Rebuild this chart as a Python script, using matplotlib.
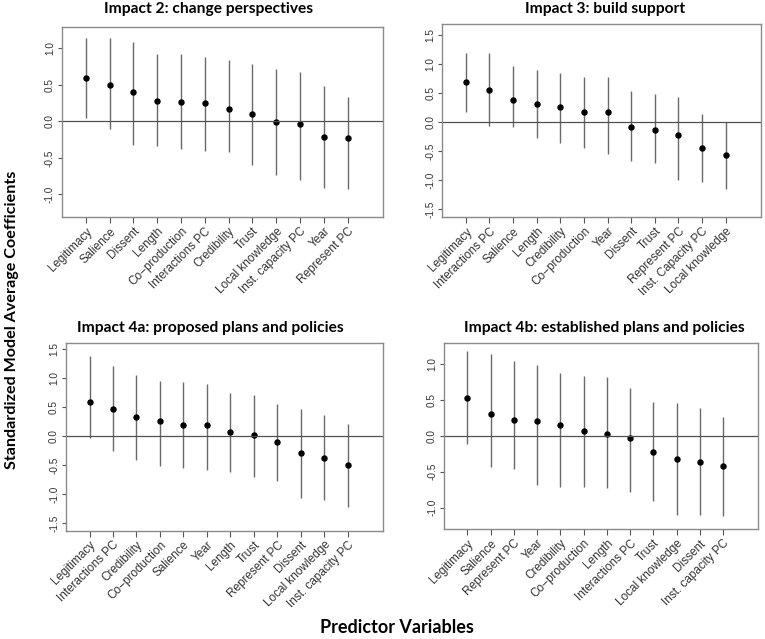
import matplotlib
matplotlib.use('Agg')
import matplotlib.pyplot as plt

plt.rcParams['font.family'] = ['Liberation Sans', 'DejaVu Sans']

# Impact 2: change perspectives
p1_names = ['Legitimacy', 'Salience', 'Dissent', 'Length', 'Co\u2212production', 'Interactions PC',
            'Credibility', 'Trust', 'Local knowledge', 'Inst. capacity PC', 'Year', 'Represent PC']
p1_mid = [0.59, 0.49, 0.40, 0.28, 0.27, 0.25, 0.17, 0.10, -0.01, -0.04, -0.22, -0.23]
p1_low = [0.04, -0.11, -0.32, -0.34, -0.38, -0.40, -0.42, -0.60, -0.74, -0.80, -0.91, -0.93]
p1_high = [1.14, 1.14, 1.09, 0.92, 0.92, 0.88, 0.84, 0.79, 0.72, 0.67, 0.48, 0.33]

# Impact 3: build support
p2_names = ['Legitimacy', 'Interactions PC', 'Salience', 'Length', 'Credibility', 'Co\u2212production',
            'Year', 'Dissent', 'Trust', 'Represent PC', 'Inst. Capacity PC', 'Local knowledge']
p2_mid = [0.69, 0.55, 0.39, 0.31, 0.26, 0.18, 0.17, -0.09, -0.14, -0.22, -0.45, -0.57]
p2_low = [0.17, -0.06, -0.09, -0.27, -0.35, -0.45, -0.55, -0.67, -0.70, -1.00, -1.03, -1.15]
p2_high = [1.20, 1.19, 0.97, 0.90, 0.84, 0.78, 0.78, 0.54, 0.49, 0.43, 0.14, 0.00]

# Impact 4a: proposed plans and policies
p3_names = ['Legitimacy', 'Interactions PC', 'Credibility', 'Co\u2212production', 'Salience', 'Year',
            'Length', 'Trust', 'Represent PC', 'Dissent', 'Local knowledge', 'Inst. capacity PC']
p3_mid = [0.59, 0.48, 0.34, 0.26, 0.20, 0.19, 0.07, 0.02, -0.10, -0.29, -0.37, -0.49]
p3_low = [-0.02, -0.26, -0.41, -0.51, -0.55, -0.58, -0.61, -0.70, -0.77, -1.06, -1.10, -1.21]
p3_high = [1.38, 1.21, 1.06, 0.95, 0.94, 0.91, 0.74, 0.72, 0.55, 0.47, 0.37, 0.21]

# Impact 4b: established plans and policies
p4_names = ['Legitimacy', 'Salience', 'Represent PC', 'Year', 'Credibility', 'Co\u2212production',
            'Length', 'Interactions PC', 'Trust', 'Local knowledge', 'Dissent', 'Inst. capacity PC']
p4_mid = [0.53, 0.30, 0.22, 0.20, 0.15, 0.07, 0.02, -0.03, -0.22, -0.32, -0.36, -0.42]
p4_low = [-0.12, -0.43, -0.46, -0.69, -0.71, -0.71, -0.72, -0.78, -0.91, -1.10, -1.10, -1.12]
p4_high = [1.18, 1.14, 1.03, 0.98, 0.87, 0.83, 0.81, 0.66, 0.47, 0.46, 0.38, 0.26]

titles = ['Impact 2: change perspectives', 'Impact 3: build support',
          'Impact 4a: proposed plans and policies', 'Impact 4b: established plans and policies']
yticks1 = [-1.0, -0.5, 0.0, 0.5, 1.0]
yticks2 = [-1.5, -1.0, -0.5, 0.0, 0.5, 1.0, 1.5]

panels = [
    (p1_names, p1_mid, p1_low, p1_high, [0.081, 0.6604, 0.420, 0.2973], (-1.31, 1.29), yticks1, (0.273, 0.986)),
    (p2_names, p2_mid, p2_low, p2_high, [0.578, 0.6604, 0.417, 0.302], (-1.63, 1.69), yticks2, (0.791, 0.986)),
    (p3_names, p3_mid, p3_low, p3_high, [0.0863, 0.1695, 0.4144, 0.2942], (-1.626, 1.615), yticks2, (0.275, 0.487)),
    (p4_names, p4_mid, p4_low, p4_high, [0.5804, 0.172, 0.4105, 0.2916], (-1.296, 1.29), yticks1, (0.790, 0.487)),
]

fig = plt.figure(figsize=(7.65, 6.39), dpi=100)
head_font = ['Lato', 'DejaVu Sans']

for (names, mid, low, high, rect, ylim, yt, tpos), title in zip(panels, titles):
    ax = fig.add_axes(rect)
    x = list(range(len(names)))
    ax.vlines(x, low, high, color='#6a6a6a', lw=1.0)
    ax.plot(x, mid, 'o', color='black', ms=3.6)
    ax.axhline(0, color='#505050', lw=0.9)
    ax.set_xlim(-1.0, 12.5)
    ax.set_ylim(*ylim)
    ax.set_yticks(yt)
    ax.set_yticklabels(['%.1f' % v for v in yt], rotation=90, va='center',
                       fontsize=7.2, color='#333333')
    ax.set_xticks(x)
    ax.set_xticklabels(names, rotation=45, ha='right', rotation_mode='anchor',
                       fontsize=8.5, color='#333333')
    ax.tick_params(axis='x', length=4, width=0.8, color='#555555', pad=2)
    ax.tick_params(axis='y', length=3, width=0.8, color='#555555', pad=2)
    for s in ax.spines.values():
        s.set_color('#8a8a8a')
        s.set_linewidth(1.0)
    fig.text(tpos[0], tpos[1], title, ha='center', va='center', fontsize=11.2,
             fontweight='bold', family=head_font)

fig.text(0.016, 0.5, 'Standardized Model Average Coefficients', rotation=90, ha='center',
         va='center', fontsize=11.6, fontweight='bold', family=head_font)
fig.text(0.519, 0.018, 'Predictor Variables', ha='center', va='center', fontsize=13,
         fontweight='bold', family=head_font)

fig.savefig('out.png', dpi=100)
